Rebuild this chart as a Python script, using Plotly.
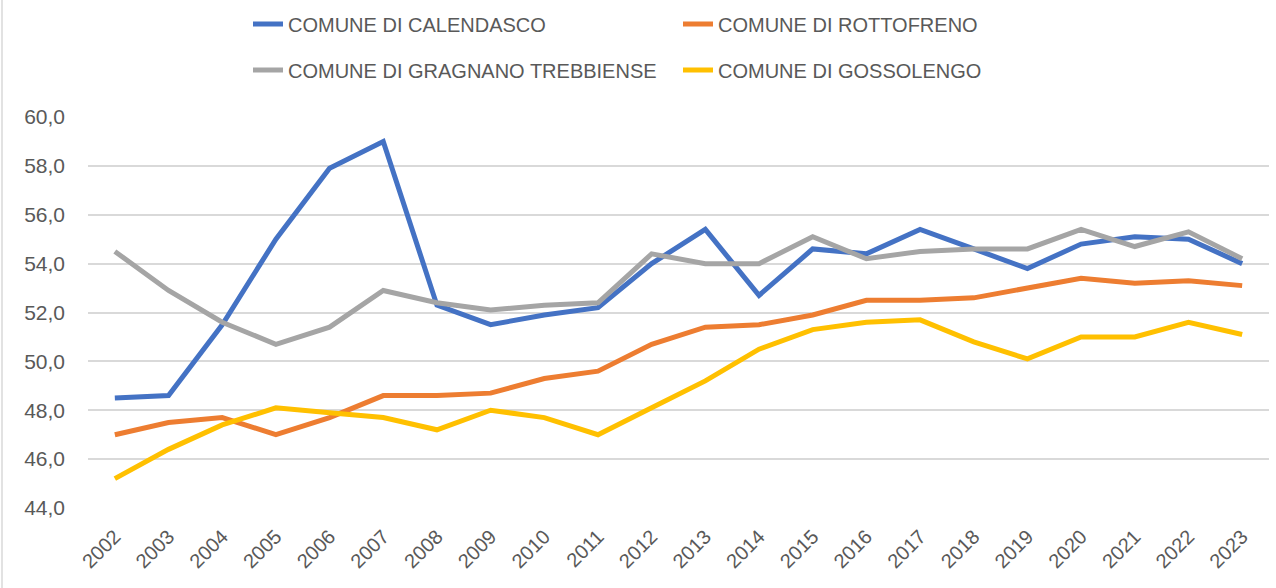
import plotly.graph_objects as go

years = [str(y) for y in range(2002, 2024)]

calendasco = [48.5, 48.6, 51.5, 55.0, 57.9, 59.0, 52.3, 51.5, 51.9, 52.2, 54.0,
              55.4, 52.7, 54.6, 54.4, 55.4, 54.6, 53.8, 54.8, 55.1, 55.0, 54.0]
rottofreno = [47.0, 47.5, 47.7, 47.0, 47.7, 48.6, 48.6, 48.7, 49.3, 49.6, 50.7,
              51.4, 51.5, 51.9, 52.5, 52.5, 52.6, 53.0, 53.4, 53.2, 53.3, 53.1]
gragnano = [54.5, 52.9, 51.6, 50.7, 51.4, 52.9, 52.4, 52.1, 52.3, 52.4, 54.4,
            54.0, 54.0, 55.1, 54.2, 54.5, 54.6, 54.6, 55.4, 54.7, 55.3, 54.2]
gossolengo = [45.2, 46.4, 47.4, 48.1, 47.9, 47.7, 47.2, 48.0, 47.7, 47.0, 48.1,
              49.2, 50.5, 51.3, 51.6, 51.7, 50.8, 50.1, 51.0, 51.0, 51.6, 51.1]

y_ticks = [44, 46, 48, 50, 52, 54, 56, 58, 60]
y_tick_labels = ["44,0", "46,0", "48,0", "50,0", "52,0", "54,0", "56,0", "58,0", "60,0"]

series = [
    ("COMUNE DI CALENDASCO", calendasco, "#4472C4", "legend"),
    ("COMUNE DI ROTTOFRENO", rottofreno, "#ED7D31", "legend"),
    ("COMUNE DI GRAGNANO TREBBIENSE", gragnano, "#A5A5A5", "legend2"),
    ("COMUNE DI GOSSOLENGO", gossolengo, "#FFC000", "legend2"),
]

FONT = "Liberation Sans"
TEXT = "#595959"

fig = go.Figure()
for name, vals, color, leg in series:
    fig.add_trace(go.Scatter(
        x=years, y=vals, name=name, mode="lines",
        line=dict(color=color, width=5), legend=leg,
    ))

legend_common = dict(
    orientation="h", xref="container", yref="container",
    xanchor="left", yanchor="middle",
    font=dict(family=FONT, size=20, color=TEXT),
    entrywidth=385, entrywidthmode="pixels",
    bgcolor="rgba(0,0,0,0)", traceorder="normal",
)

fig.update_layout(
    width=1276, height=588,
    margin=dict(l=88, r=7, t=117, b=80),
    plot_bgcolor="white", paper_bgcolor="white",
    font=dict(family=FONT, color=TEXT),
    legend=dict(x=248 / 1276, y=1 - 24 / 588, **legend_common),
    legend2=dict(x=248 / 1276, y=1 - 70 / 588, **legend_common),
    xaxis=dict(
        type="category", range=[-0.5, len(years) - 0.5],
        tickangle=-45, showgrid=False, zeroline=False,
        showline=False, ticks="", ticklabelstandoff=12,
        tickfont=dict(family=FONT, size=20, color=TEXT),
    ),
    yaxis=dict(
        range=[44, 60], tickvals=y_ticks, ticktext=y_tick_labels,
        showgrid=True, gridcolor="#D9D9D9", gridwidth=1.5, zeroline=False,
        showline=False, ticks="", ticklabelstandoff=22,
        tickfont=dict(family=FONT, size=21, color=TEXT),
    ),
    shapes=[dict(type="line", xref="paper", yref="paper",
                 x0=-86 / 1181, x1=-86 / 1181, y0=-1, y1=2,
                 line=dict(color="#D9D9D9", width=1.5))],
)

fig.write_html("out.html")
